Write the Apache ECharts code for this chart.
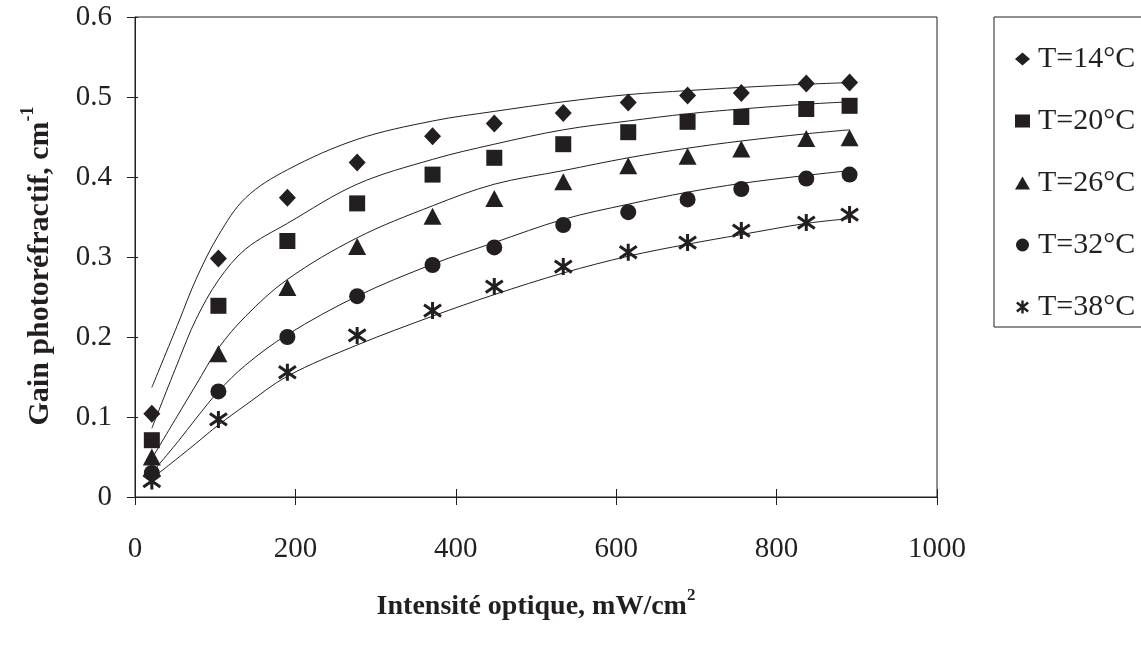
<!DOCTYPE html>
<html>
<head>
<meta charset="utf-8">
<script src="https://cdn.jsdelivr.net/npm/echarts@6/dist/echarts.min.js"></script>
<style>
  html, body { margin: 0; padding: 0; background: #fff; }
  #chart { width: 1141px; height: 646px; }
</style>
</head>
<body>
<div id="chart"></div>
<script>
// measured points (intensity in mW/cm2)
var intensity = [21, 104, 190, 277, 371, 448, 534, 615, 689, 756, 837, 891];
var gain14 = [0.104, 0.298, 0.374, 0.418, 0.451, 0.467, 0.480, 0.493, 0.502, 0.505, 0.517, 0.518];
var gain20 = [0.071, 0.239, 0.320, 0.367, 0.403, 0.424, 0.441, 0.456, 0.469, 0.475, 0.485, 0.489];
var gain26 = [0.050, 0.179, 0.262, 0.313, 0.351, 0.373, 0.394, 0.414, 0.426, 0.435, 0.448, 0.449];
var gain32 = [0.030, 0.132, 0.200, 0.251, 0.290, 0.312, 0.340, 0.356, 0.372, 0.385, 0.398, 0.403];
var gain38 = [0.020, 0.097, 0.156, 0.202, 0.233, 0.263, 0.288, 0.306, 0.318, 0.333, 0.343, 0.353];

// fitted curves
var fitIntensity = [21, 55, 76, 104, 138, 190, 277, 371, 448, 534, 615, 689, 756, 837, 891];
var fit14 = [0.137, 0.220, 0.272, 0.327, 0.374, 0.409, 0.447, 0.470, 0.482, 0.494, 0.503, 0.508, 0.512, 0.516, 0.518];
var fit20 = [0.086, 0.172, 0.222, 0.271, 0.310, 0.342, 0.391, 0.422, 0.441, 0.459, 0.470, 0.479, 0.485, 0.491, 0.494];
var fit26 = [0.048, 0.105, 0.140, 0.186, 0.226, 0.272, 0.324, 0.364, 0.391, 0.408, 0.424, 0.436, 0.445, 0.454, 0.459];
var fit32 = [0.030, 0.071, 0.098, 0.132, 0.165, 0.203, 0.251, 0.291, 0.318, 0.347, 0.366, 0.381, 0.392, 0.402, 0.408];
var fit38 = [0.023, 0.050, 0.067, 0.090, 0.115, 0.151, 0.190, 0.226, 0.253, 0.280, 0.301, 0.316, 0.328, 0.342, 0.348];

var labels = ['T=14°C', 'T=20°C', 'T=26°C', 'T=32°C', 'T=38°C'];

var ink = '#231f20';
var serif = '"Liberation Serif", "DejaVu Serif", serif';
var asterisk = 'path://M0,-10L0,10M-8.7,-7L8.7,7M-8.7,7L8.7,-7';

var pairs = function (xs, ys) {
    var out = [];
    for (var i = 0; i < xs.length; i++) {
        out.push([xs[i], ys[i]]);
    }
    return out;
};

var points = [gain14, gain20, gain26, gain32, gain38];
var fits = [fit14, fit20, fit26, fit32, fit38];
var symbols = ['diamond', 'rect', 'triangle', 'circle', asterisk];
var sizes = [[17, 18], 16, [18, 17], 16, [17, 17]];

var series = [];
for (var k = 0; k < fits.length; k++) {
    series.push({
        type: 'line',
        data: pairs(fitIntensity, fits[k]),
        smooth: 0.35,
        showSymbol: false,
        silent: true,
        z: 1,
        lineStyle: { color: ink, width: 1 }
    });
}
for (var j = 0; j < points.length; j++) {
    var isStar = j === 4;
    series.push({
        name: labels[j],
        type: 'scatter',
        data: pairs(intensity, points[j]),
        symbol: symbols[j],
        symbolSize: sizes[j],
        z: 3,
        itemStyle: isStar
            ? { color: 'rgba(0,0,0,0)', borderColor: ink, borderWidth: 3, opacity: 1 }
            : { color: ink, borderWidth: 0, opacity: 1 }
    });
}

var myChart = echarts.init(document.getElementById('chart'), null, { renderer: 'canvas' });

var option = {
    backgroundColor: '#fff',
    animation: false,
    grid: {
        left: 135, top: 17, right: 204, bottom: 149,
        show: true, borderColor: ink, borderWidth: 1, backgroundColor: 'transparent'
    },
    legend: {
        orient: 'vertical',
        left: 1010,
        top: 39,
        itemGap: 32,
        itemWidth: 15,
        itemHeight: 13,
        data: labels.map(function (name, i) {
            return {
                name: name,
                itemStyle: i === 4
                    ? { color: 'rgba(0,0,0,0)', borderColor: ink, borderWidth: 2.4, opacity: 1 }
                    : { color: ink, opacity: 1 }
            };
        }),
        textStyle: { fontFamily: serif, fontSize: 30, color: ink, lineHeight: 30, padding: [0, 0, 0, 3] }
    },
    xAxis: [
        {
            type: 'value', min: 0, max: 1000, interval: 200,
            axisLine: { show: true, onZero: false, lineStyle: { color: ink, width: 1 } },
            axisTick: { show: true, length: 8, lineStyle: { color: ink } },
            axisLabel: {
                margin: 38, fontFamily: serif, fontSize: 29, color: ink,
                formatter: function (v) { return String(v); }
            },
            splitLine: { show: false }
        },
        {
            type: 'value', min: 0, max: 1000, interval: 200, position: 'bottom',
            axisLine: { show: false },
            axisTick: { show: true, inside: true, length: 8, lineStyle: { color: ink } },
            axisLabel: { show: false },
            splitLine: { show: false }
        }
    ],
    yAxis: [
        {
            type: 'value', min: 0, max: 0.6, interval: 0.1,
            axisLine: { show: true, onZero: false, lineStyle: { color: ink, width: 1 } },
            axisTick: { show: true, length: 8, lineStyle: { color: ink } },
            axisLabel: {
                margin: 23, fontFamily: serif, fontSize: 29, color: ink,
                formatter: function (v) { return v === 0 ? '0' : v.toFixed(1); }
            },
            splitLine: { show: false }
        },
        {
            type: 'value', min: 0, max: 0.6, interval: 0.1, position: 'left',
            axisLine: { show: false },
            axisTick: { show: true, inside: true, length: 3, lineStyle: { color: ink } },
            axisLabel: { show: false },
            splitLine: { show: false }
        }
    ],
    graphic: [
        {
            type: 'rect',
            shape: { x: 994, y: 17, width: 170, height: 310 },
            style: { fill: 'none', stroke: ink, lineWidth: 1 }
        },
        {
            type: 'text',
            x: 536, y: 604,
            style: {
                text: '{m|Intensité optique, mW/cm}{s|2}',
                align: 'center', verticalAlign: 'middle',
                rich: {
                    m: { fontFamily: serif, fontWeight: 'bold', fontSize: 28, lineHeight: 34, verticalAlign: 'bottom', fill: ink },
                    s: { fontFamily: serif, fontWeight: 'bold', fontSize: 17, lineHeight: 34, verticalAlign: 'top', fill: ink }
                }
            }
        },
        {
            type: 'text',
            x: 37, y: 266,
            rotation: Math.PI / 2,
            style: {
                text: '{m|Gain photoréfractif, cm}{s|-1}',
                align: 'center', verticalAlign: 'middle',
                rich: {
                    m: { fontFamily: serif, fontWeight: 'bold', fontSize: 30, lineHeight: 36, verticalAlign: 'bottom', fill: ink },
                    s: { fontFamily: serif, fontWeight: 'bold', fontSize: 18, lineHeight: 36, verticalAlign: 'top', fill: ink }
                }
            }
        }
    ],
    series: series
};

myChart.setOption(option);
window.onresize = myChart.resize;
</script>
</body>
</html>
